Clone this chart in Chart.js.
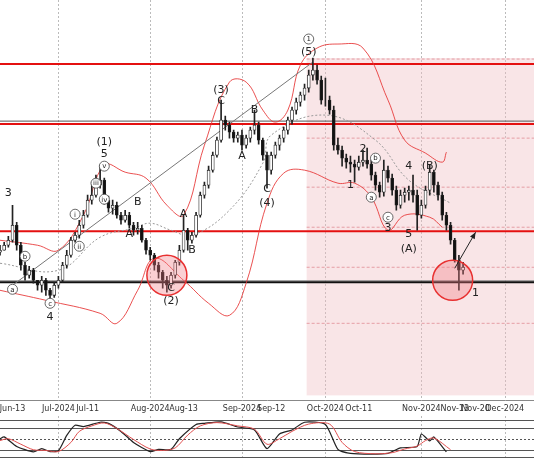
<!DOCTYPE html>
<html>
<head>
<meta charset="utf-8">
<script src="https://cdn.jsdelivr.net/npm/chart.js@4"></script>
<style>
  body { margin: 0; background: #fff; width: 534px; height: 462px; overflow: hidden; font-family: "DejaVu Sans", sans-serif; }
  #main { position: absolute; left: 0; top: 0; width: 534px; height: 414px; }
  #stoch { position: absolute; left: 0; top: 414px; width: 534px; height: 48px; }
</style>
</head>
<body>
<div id="main"><canvas id="priceChart"></canvas></div>
<div id="stoch"><canvas id="stochChart"></canvas></div>
<script>
// trading days, Jun 10 .. Dec 11 2024 (US holidays skipped)
const holidays = ['06-19', '07-04', '09-02', '11-28'];
const days = [];
for (let d = new Date(Date.UTC(2024, 5, 10)); d <= new Date(Date.UTC(2024, 11, 11)); d.setUTCDate(d.getUTCDate() + 1)) {
  const wd = d.getUTCDay();
  const key = String(d.getUTCMonth() + 1).padStart(2, '0') + '-' + String(d.getUTCDate()).padStart(2, '0');
  if (wd === 0 || wd === 6 || holidays.includes(key)) continue;
  days.push(key);
}

const tickLabels = {
  '06-13': 'Jun-13', '07-01': 'Jul-2024', '07-11': 'Jul-11', '08-01': 'Aug-2024', '08-13': 'Aug-13',
  '09-03': 'Sep-2024', '09-12': 'Sep-12', '10-01': 'Oct-2024', '10-11': 'Oct-11', '11-01': 'Nov-2024',
  '11-13': 'Nov-13', '11-20': 'Nov-20', '12-02': 'Dec-2024'
};
const monthStarts = ['07-01', '08-01', '09-03', '10-01', '11-01', '12-02'];

// price series (Jun 10 .. Nov 15)
const firstOpen = 148;
const closes = [
  150,155,160,175,155,135,125,130,120,115,120,110,105,115,
  120,135,145,160,165,175,185,200,205,215,220,200,192,195,185,180,185,175,170,172,160,150,
  145,135,128,120,115,125,138,150,170,160,165,185,205,215,230,245,260,280,275,268,262,265,
  255,262,270,275,260,245,230,245,255,262,270,280,290,298,305,312,325,330,320,300,
  300,290,255,250,242,238,236,233,238,240,236,225,215,208,230,222,210,195,205,208,210,205,185,
  195,210,228,215,205,185,175,160,140,130,133
];
const highs = [
  155,158,164,195,178,158,138,134,132,120,124,122,112,118,
  124,138,150,163,168,180,190,205,218,225,235,222,204,200,198,188,190,188,178,178,175,162,
  153,147,138,130,124,128,140,155,185,172,168,188,208,218,234,248,263,300,284,278,270,268,
  270,265,273,290,278,262,248,248,258,265,273,283,293,302,308,316,330,342,335,324,
  322,304,294,262,254,246,244,240,244,250,252,240,228,218,240,234,226,214,210,212,214,225,210,
  200,214,235,230,218,208,188,178,162,145,138
];
const lows = [
  145,150,153,158,150,130,120,122,117,110,108,105,100,103,
  112,118,132,143,158,162,172,183,196,203,212,196,188,186,182,176,178,172,165,166,158,146,
  140,130,122,112,108,112,122,135,148,150,157,163,183,202,212,228,243,258,270,262,258,258,
  250,252,258,266,256,240,212,226,242,250,258,266,276,286,294,300,308,320,316,296,
  294,286,250,246,234,232,228,218,230,234,232,220,210,203,204,218,205,190,192,198,200,198,170,
  182,192,205,208,200,180,170,156,138,110,126
];
const opens = closes.map((c, i) => (i === 0 ? firstOpen : closes[i - 1]));

// Bollinger bands [day index, price]
const bbUpper = [[0,160],[9,155],[14,150],[20,185],[25,235],[30,228],[35,222],[40,195],[44,185],[49,255],[55,318],[59,318],[63,290],[66,278],[69,290],[72,335],[76,352],[81,356],[87,352],[93,300],[97,260],[102,247],[106,238],[107,248]];
const bbMiddle = [[0,137],[14,130],[24,163],[32,172],[36,177],[41,170],[46,165],[55,190],[63,237],[65,265],[78,285],[90,260],[98,220],[108,197]];
const bbLower = [[0,110],[11,100],[24,87],[28,77],[33,110],[37,142],[44,120],[50,97],[55,85],[59,117],[64,197],[68,227],[73,230],[81,217],[85,217],[89,203],[93,170],[97,185],[103,183],[106,173]];
const trendLine = [[3,115],[75,338]];

const redLevels = [336, 276, 169];
const grayLevels = [279];
const blackLevels = [118];
const forecastLevels = [341, 262, 213, 173, 133, 77];
const forecastStart = 73.5;
const forecastTop = 342;
const forecastBottom = 5;

// wave labels [day index, price, text, circled]
const waveLabels = [
  [2,207,'3'],[6,144,'b',1],[3,111,'a',1],[12,97,'c',1],[12,83,'4'],
  [18,186,'i',1],[19,154,'ii',1],[23,217,'iii',1],[25,201,'iv',1],[25,234,'v',1],[25,246,'5'],[25,258,'(1)'],
  [33,198,'B'],[31,166,'A'],[44,186,'A'],[46,150,'B'],[41,112,'C'],[41,99,'(2)'],
  [53,310,'(3)'],[53,299,'C'],[61,290,'B'],[58,244,'A'],[64,211,'C'],[64,197,'(4)'],
  [74,348,'(5)'],[74,361,'1',1],[84,215,'1'],[87,251,'2'],[90,242,'b',1],[89,203,'a',1],[93,183,'c',1],
  [93,172,'3'],[98,234,'4'],[98,166,'5'],[98,151,'(A)'],[103,234,'(B)'],[114,107,'1']
];
const circles = [[40,125],[108.5,120]];
const arrow = [[109,132],[114,168]];

// stochastic [day index, value]
const stochK = [[0,50],[1,55],[4,29],[8,14],[10,23],[12,15],[14,17],[16,59],[18,87],[20,83],[24,95],[26,92],[29,70],[32,40],[36,15],[38,21],[41,21],[43,50],[47,89],[49,92],[53,96],[57,82],[61,74],[64,23],[67,63],[70,74],[73,95],[78,89],[81,21],[84,10],[89,8],[93,10],[96,25],[100,29],[101,63],[103,44],[104,55],[107,14]];
const stochD = [[0,45],[2,50],[5,35],[8,20],[11,18],[14,15],[17,40],[19,70],[22,85],[25,93],[28,78],[32,48],[36,22],[39,18],[42,25],[45,60],[48,85],[52,94],[57,85],[61,76],[64,35],[67,50],[70,70],[74,90],[79,90],[82,40],[85,15],[90,9],[94,12],[97,22],[100,30],[102,45],[104,52],[108,20]];

const pts = arr => arr.map(([i, y]) => ({ x: days[i], y }));

const monthGrid = {
  id: 'monthGrid',
  beforeDatasetsDraw(chart) {
    const { ctx, chartArea: a, scales: { x } } = chart;
    ctx.save();
    ctx.strokeStyle = '#bbb';
    ctx.lineWidth = 1;
    ctx.setLineDash([2, 2]);
    monthStarts.forEach(m => {
      const px = Math.round(x.getPixelForValue(days.indexOf(m))) + 0.5;
      ctx.beginPath(); ctx.moveTo(px, a.top); ctx.lineTo(px, a.bottom); ctx.stroke();
    });
    ctx.restore();
  }
};

const priceDecor = {
  id: 'priceDecor',
  beforeDatasetsDraw(chart) {
    const { ctx, chartArea: a, scales: { x, y } } = chart;
    ctx.save();
    const fx = x.getPixelForValue(forecastStart);
    ctx.fillStyle = 'rgba(240,190,195,0.4)';
    ctx.fillRect(fx, y.getPixelForValue(forecastTop), a.right - fx, y.getPixelForValue(forecastBottom) - y.getPixelForValue(forecastTop));
    ctx.strokeStyle = 'rgba(215,110,120,0.6)';
    ctx.setLineDash([3, 2]);
    forecastLevels.forEach(p => {
      const py = y.getPixelForValue(p);
      ctx.beginPath(); ctx.moveTo(fx, py); ctx.lineTo(a.right, py); ctx.stroke();
    });
    ctx.setLineDash([]);
    const hline = (p, color, w) => {
      const py = y.getPixelForValue(p);
      ctx.strokeStyle = color; ctx.lineWidth = w;
      ctx.beginPath(); ctx.moveTo(a.left, py); ctx.lineTo(a.right, py); ctx.stroke();
    };
    grayLevels.forEach(p => hline(p, '#555', 1));
    blackLevels.forEach(p => { hline(p + 1.5, '#888', 1); hline(p, '#111', 2); });
    redLevels.forEach(p => hline(p, '#e41010', 2));
    ctx.restore();
  },
  afterDatasetsDraw(chart) {
    const { ctx, scales: { x, y } } = chart;
    ctx.save();
    circles.forEach(([i, p]) => {
      ctx.beginPath();
      ctx.arc(x.getPixelForValue(i), y.getPixelForValue(p), 20, 0, Math.PI * 2);
      ctx.fillStyle = 'rgba(240,120,130,0.35)';
      ctx.fill();
      ctx.strokeStyle = '#e83030'; ctx.lineWidth = 1.5; ctx.stroke();
    });
    // arrow
    const x0 = x.getPixelForValue(arrow[0][0]), y0 = y.getPixelForValue(arrow[0][1]);
    const x1 = x.getPixelForValue(arrow[1][0]), y1 = y.getPixelForValue(arrow[1][1]);
    ctx.strokeStyle = '#222'; ctx.lineWidth = 1;
    ctx.beginPath(); ctx.moveTo(x0, y0); ctx.lineTo(x1, y1); ctx.stroke();
    const ang = Math.atan2(y1 - y0, x1 - x0);
    ctx.fillStyle = '#222';
    ctx.beginPath();
    ctx.moveTo(x1, y1);
    ctx.lineTo(x1 - 7 * Math.cos(ang - 0.4), y1 - 7 * Math.sin(ang - 0.4));
    ctx.lineTo(x1 - 7 * Math.cos(ang + 0.4), y1 - 7 * Math.sin(ang + 0.4));
    ctx.closePath(); ctx.fill();
    // wave labels
    ctx.textAlign = 'center'; ctx.textBaseline = 'middle';
    waveLabels.forEach(([i, p, t, c]) => {
      const px = x.getPixelForValue(i), py = y.getPixelForValue(p);
      if (c) {
        ctx.beginPath(); ctx.arc(px, py, 5, 0, Math.PI * 2);
        ctx.fillStyle = '#fff'; ctx.fill();
        ctx.strokeStyle = '#444'; ctx.lineWidth = 0.8; ctx.stroke();
        ctx.fillStyle = '#222'; ctx.font = '7px "DejaVu Sans"';
        ctx.fillText(t, px, py + 0.5);
      } else {
        ctx.fillStyle = '#222'; ctx.font = '11px "DejaVu Sans"';
        ctx.fillText(t, px, py);
      }
    });
    ctx.restore();
  }
};

new Chart(document.getElementById('priceChart'), {
  type: 'bar',
  data: {
    labels: days,
    datasets: [
      { type: 'line', data: pts(bbUpper), borderColor: 'rgba(230,50,50,0.85)', borderWidth: 1, pointRadius: 0, tension: 0.4, order: 5 },
      { type: 'line', data: pts(bbLower), borderColor: 'rgba(230,50,50,0.85)', borderWidth: 1, pointRadius: 0, tension: 0.4, order: 5 },
      { type: 'line', data: pts(bbMiddle), borderColor: '#999', borderDash: [2, 2], borderWidth: 1, pointRadius: 0, tension: 0.4, order: 5 },
      { type: 'line', data: pts(trendLine), borderColor: '#777', borderWidth: 1, pointRadius: 0, order: 4 },
      { data: lows.map((l, i) => [l, highs[i]]), backgroundColor: '#222', barThickness: 1, grouped: false, order: 3 },
      {
        data: opens.map((o, i) => [o, closes[i]]),
        backgroundColor: closes.map((c, i) => (c < opens[i] ? '#111' : '#fff')),
        borderColor: '#222', borderWidth: 0.8, borderSkipped: false,
        barThickness: 3, grouped: false, order: 2
      }
    ]
  },
  options: {
    responsive: true, maintainAspectRatio: false, animation: false,
    layout: { padding: 0 },
    plugins: { legend: { display: false }, tooltip: { enabled: false } },
    scales: {
      x: {
        offset: false,
        grid: { display: false, drawTicks: true, tickLength: 4 },
        border: { color: '#888' },
        ticks: {
          autoSkip: false, maxRotation: 0, padding: 0,
          font: { size: 8, family: 'DejaVu Sans' }, color: '#333',
          callback: (v, i) => tickLabels[days[i]] || ''
        }
      },
      y: { display: false, min: 0, max: 400 }
    }
  },
  plugins: [monthGrid, priceDecor]
});

const stochLevels = {
  id: 'stochLevels',
  beforeDatasetsDraw(chart) {
    const { ctx, chartArea: a, scales: { y } } = chart;
    ctx.save();
    ctx.strokeStyle = '#555'; ctx.lineWidth = 1;
    [[100, []], [80, []], [50, [2, 2]], [20, []], [0, []]].forEach(([v, dash]) => {
      const py = Math.round(y.getPixelForValue(v)) + 0.5;
      ctx.setLineDash(dash);
      ctx.beginPath(); ctx.moveTo(a.left, py); ctx.lineTo(a.right, py); ctx.stroke();
    });
    ctx.restore();
  }
};

new Chart(document.getElementById('stochChart'), {
  type: 'line',
  data: {
    labels: days,
    datasets: [
      { data: pts(stochD), borderColor: '#e05050', borderWidth: 1, pointRadius: 0, tension: 0.3 },
      { data: pts(stochK), borderColor: '#222', borderWidth: 1.2, pointRadius: 0, tension: 0.2 }
    ]
  },
  options: {
    responsive: true, maintainAspectRatio: false, animation: false,
    layout: { padding: { top: 2, bottom: 2 } },
    plugins: { legend: { display: false }, tooltip: { enabled: false } },
    scales: {
      x: { display: false, offset: false },
      y: { display: false, min: -8, max: 112 }
    }
  },
  plugins: [monthGrid, stochLevels]
});
</script>
</body>
</html>
